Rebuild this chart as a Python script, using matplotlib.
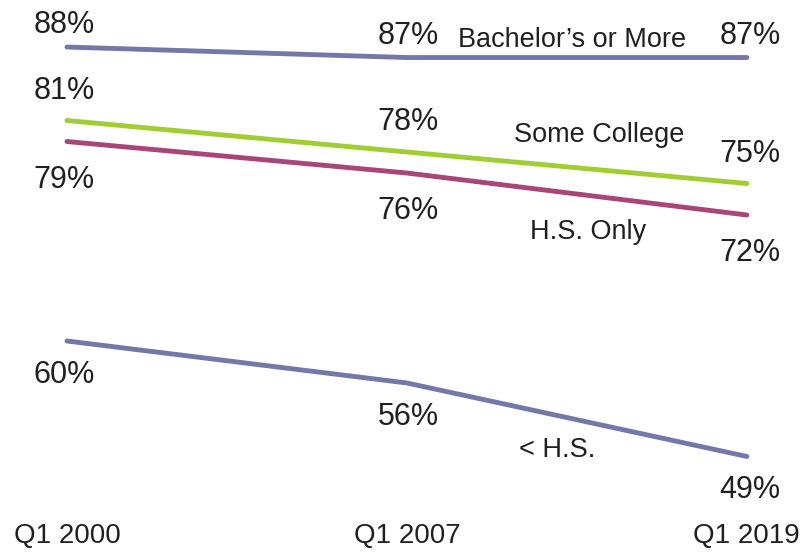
import matplotlib
matplotlib.use("Agg")
import matplotlib.pyplot as plt

periods = ["Q1 2000", "Q1 2007", "Q1 2019"]
bachelor = [88, 87, 87]
some_college = [81, 78, 75]
hs_only = [79, 76, 72]
less_hs = [60, 56, 49]

series_names = ["Bachelor\u2019s or More", "Some College", "H.S. Only", "< H.S."]
colors = ["#7378A8", "#A0CD32", "#A8467A", "#7378A8"]

plt.rcParams['font.family'] = ['Liberation Sans', 'DejaVu Sans']
text_col = "#231f20"

fig = plt.figure(figsize=(8.05, 5.52), dpi=100)
ax = fig.add_axes([0, 0, 1, 1])
ax.set_xlim(-0.197, 2.171)
ax.set_ylim(39.9, 92.48)
ax.axis("off")

x = range(len(periods))
all_series = [bachelor, some_college, hs_only, less_hs]
# pixel offset of the % labels (baseline) relative to each point
label_dy = [14, 22, -46, -42]
label_dx = [-3, 1, 3]
# where the series names sit (data coords, baseline)
name_pos = [(1.485, 88.0), (1.565, 78.95), (1.532, 69.7), (1.441, 48.95)]

for vals, col, dy, name, (nx, ny) in zip(all_series, colors, label_dy,
                                          series_names, name_pos):
    ax.plot(x, vals, color=col, lw=3.5, solid_capstyle="round",
            solid_joinstyle="round")
    for xi, v in zip(x, vals):
        ax.annotate(f"{v}%", (xi, v), xytext=(label_dx[xi], dy),
                    textcoords="offset pixels", ha="center", va="baseline",
                    fontsize=22, color=text_col)
    ax.text(nx, ny, name, ha="center", va="baseline", fontsize=19.5,
            color=text_col)

for xi, p in zip(x, periods):
    ax.text(xi, 0.016, p, transform=ax.get_xaxis_transform(), ha="center",
            va="baseline", fontsize=20, color=text_col)

fig.savefig("out.png", dpi=100)
